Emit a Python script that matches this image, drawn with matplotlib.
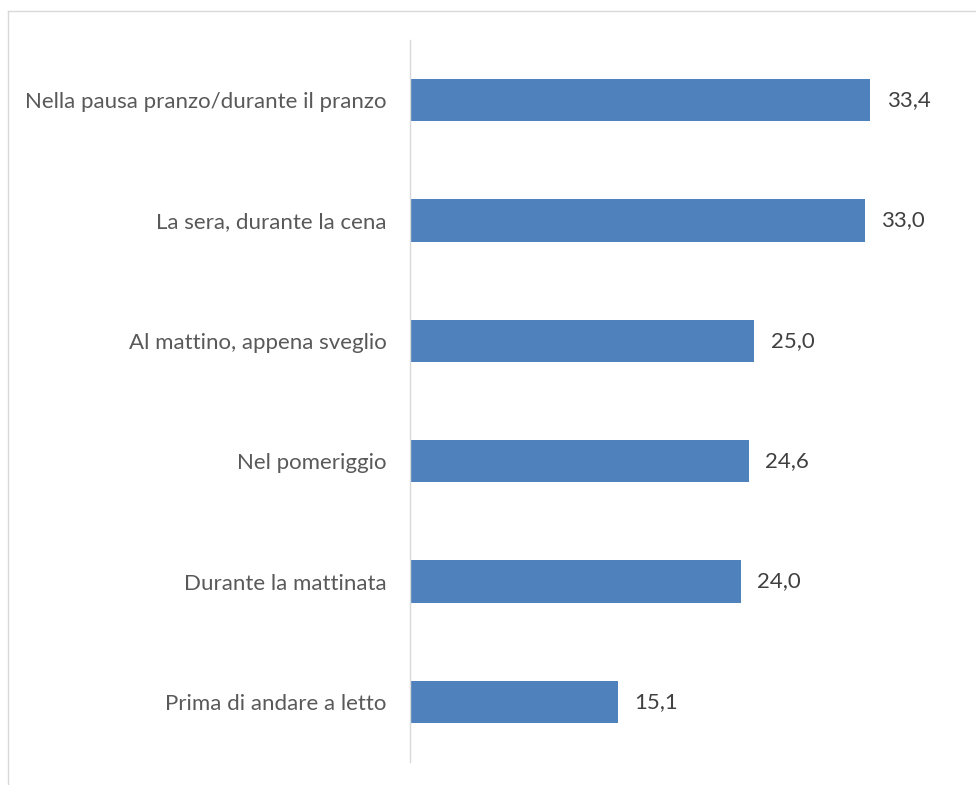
import matplotlib
matplotlib.use("Agg")
import matplotlib.pyplot as plt
from matplotlib.lines import Line2D

categories = [
    "Nella pausa pranzo/durante il pranzo",
    "La sera, durante la cena",
    "Al mattino, appena sveglio",
    "Nel pomeriggio",
    "Durante la mattinata",
    "Prima di andare a letto",
]
values = [33.4, 33.0, 25.0, 24.6, 24.0, 15.1]

plt.rcParams['font.family'] = ['Lato', 'DejaVu Sans']

W, H = 976, 785
fig = plt.figure(figsize=(W / 100, H / 100), dpi=100)
ax = fig.add_axes([410 / W, (H - 762) / H, 551 / W, 722 / H])

ypos = list(range(len(categories)))
ax.barh(ypos, values, height=0.35, color="#4f81bd")
ax.set_ylim(len(categories) - 0.5, -0.5)
ax.set_xlim(0, 40)

for y, v in zip(ypos, values):
    ax.text(v + 1.2, y, f"{v:.1f}".replace(".", ","), va="center", ha="left",
            fontsize=16, color="#404040")

ax.set_yticks(ypos)
ax.set_yticklabels(categories, fontsize=16, color="#595959")
ax.tick_params(axis="y", length=0, pad=17)
ax.set_xticks([])
for s in ["top", "right", "bottom"]:
    ax.spines[s].set_visible(False)
ax.spines["left"].set_color("#d9d9d9")
ax.spines["left"].set_linewidth(1)

# outer chart border (partially cropped)
fig.add_artist(Line2D([8 / W, 8 / W], [0, 1 - 11 / H], transform=fig.transFigure,
                      color="#d9d9d9", lw=1))
fig.add_artist(Line2D([8 / W, 1], [1 - 11 / H, 1 - 11 / H], transform=fig.transFigure,
                      color="#d9d9d9", lw=1))

fig.savefig("out.png", dpi=100, facecolor="white")
